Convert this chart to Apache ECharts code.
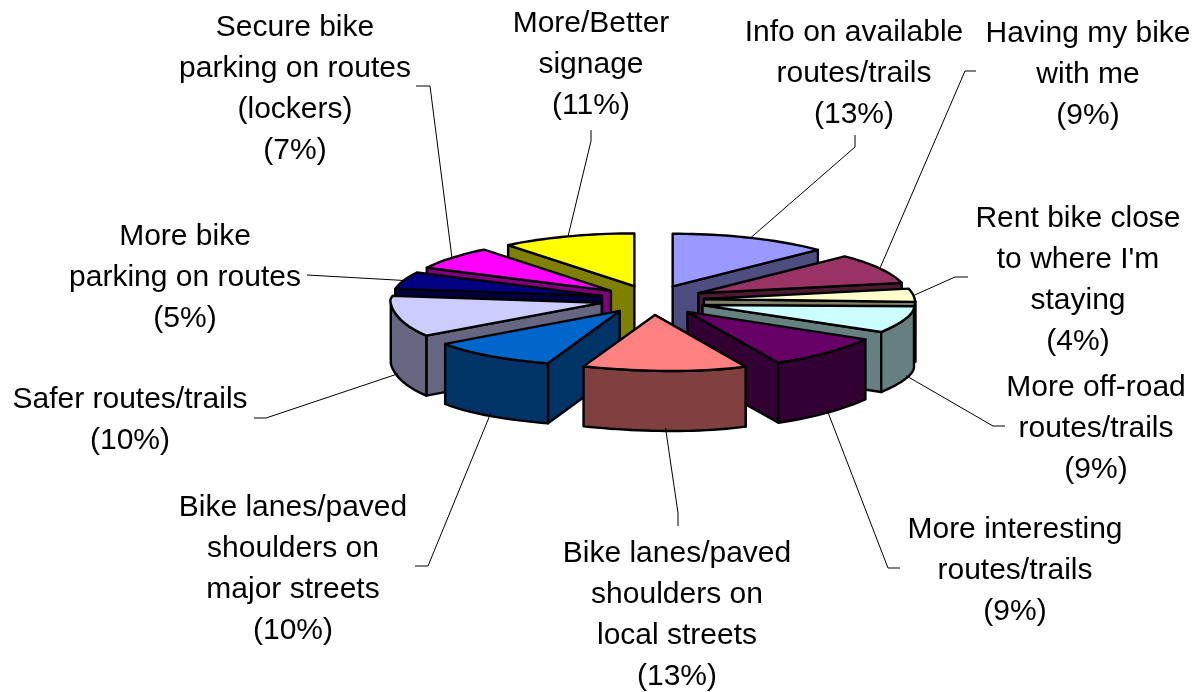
<!DOCTYPE html>
<html><head><meta charset="utf-8">
<style>html,body{margin:0;padding:0;background:#fff}#c{width:1198px;height:692px}</style>
<script src="https://cdn.jsdelivr.net/npm/echarts@6/dist/echarts.min.js"></script>
</head><body><div id="c"></div>
<script>
const categories = [
  "Info on available\nroutes/trails","Having my bike\nwith me","Rent bike close\nto where I'm\nstaying",
  "More off-road\nroutes/trails","More interesting\nroutes/trails","Bike lanes/paved\nshoulders on\nlocal streets",
  "Bike lanes/paved\nshoulders on\nmajor streets","Safer routes/trails","More bike\nparking on routes",
  "Secure bike\nparking on routes\n(lockers)","More/Better\nsignage"];
const percents = [13,9,4,9,9,13,10,10,5,7,11];
const topColors = ["#9999FF","#993366","#FFFFCC","#CCFFFF","#660066","#FF8080","#0066CC","#CCCCFF","#000080","#FF00FF","#FFFF00"];
const wallColors = ["#4D4D80","#4D1A33","#808066","#668080","#330033","#804040","#003366","#666680","#000040","#800080","#808000"];

// layout only: label centre [x, y of first line], leader route from label towards the slice
const labelAt = [[854,33],[1088,34],[1078,219],[1096,388],[1015,530],[677,554],[293,508],[130,400],[185,237],[295,28],[591,24]];
const leaderVia = [
  [[855,135],[855,147]],[[976,71],[965,71]],[[968,277],[955,277]],[[1005,426],[993,426]],[[900,568],[888,568]],
  [[678,526],[678,513]],[[415,566],[428,566]],[[254,418],[266,418]],[[307,275]],[[416,86],[430,86]],[[591,130],[591,141]]];
const view = {cx:652, cy:300, rx:211, ry:56, ex:52, ey:15, h:60, shear:17, skew:8, backX:0.06, backY:0.04, frontX:0.025};

const total = percents.reduce((a,b)=>a+b,0);
const rad = d => d*Math.PI/180;
const starts = []; { let s=0; percents.forEach(v=>{starts.push(s); s+=v/total*360;}); }
function proj(mid,th,r){
  const ox=view.ex*Math.sin(rad(mid));
  let rxPart=r*view.rx*Math.sin(rad(th));
  let wy=view.ey*Math.cos(rad(mid))+r*view.ry*Math.cos(rad(th));
  const n=wy/view.ry, front=Math.max(0,-n);
  if(n>0){ rxPart*=1-view.backX*n; wy*=1-view.backY*n; }
  rxPart*=1-view.frontX*front*front;
  const wx=ox+rxPart, q=wx/view.rx;
  return [view.cx+wx+view.shear*front, view.cy-wy-view.skew*front*q*q*q];
}
function arc(mid,a,b,r){ const n=Math.max(2,Math.ceil(Math.abs(b-a)/2)),p=[];
  for(let i=0;i<=n;i++)p.push(proj(mid,a+(b-a)*i/n,r)); return p; }
const down = p => p.map(q=>[q[0],q[1]+view.h]);
const line = {stroke:"#000",lineWidth:2.4,lineJoin:"round"};
const poly = (points,fill)=>({type:"polygon",shape:{points},style:Object.assign({fill},line),silent:true});

function renderItem(params,api){
  const i=api.value(1), v=api.value(0);
  const a=starts[i], b=a+v/total*360, mid=(a+b)/2;
  const apex=proj(mid,a,0), kids=[];
  // radial wall that faces the viewer
  const edge = Math.sin(rad(mid))>0 ? b : a;
  const corner = proj(mid,edge,1);
  kids.push(poly([apex,corner,[corner[0],corner[1]+view.h],[apex[0],apex[1]+view.h]],wallColors[i]));
  // outer curved wall on the front half
  const fa=Math.max(a,90), fb=Math.min(b,270);
  if(fb>fa){ const t=arc(mid,fa,fb,1); kids.push(poly(t.concat(down(t).reverse()),wallColors[i])); }
  // top face
  kids.push(poly([apex].concat(arc(mid,a,b,1)),topColors[i]));
  // leader and text
  let tip=proj(mid,mid,1);
  if(Math.cos(rad(mid))<0) tip=[tip[0],tip[1]+view.h-3];
  kids.push({type:"polyline",z2:50,silent:true,shape:{points:leaderVia[i].concat([tip])},style:{fill:null,stroke:"#000",lineWidth:1}});
  kids.push({type:"text",z2:60,silent:true,x:labelAt[i][0],y:labelAt[i][1]-20.5,
    style:{text:categories[i]+"\n("+v+"%)",fill:"#000",font:'30px "Liberation Sans", Arial, sans-serif',align:"center",verticalAlign:"top",lineHeight:41}});
  return {type:"group",children:kids};
}
const order = percents.map((v,i)=>i).sort((p,q)=>{
  const m=k=>starts[k]+percents[k]/total*180;
  return Math.cos(rad(m(q)))-Math.cos(rad(m(p)));
});
const chart = echarts.init(document.getElementById("c"),null,{renderer:"canvas"});
chart.setOption({
  animation:false, backgroundColor:"#fff", tooltip:{show:false},
  series:[{type:"custom",coordinateSystem:"none",renderItem,clip:false,
    encode:{value:0},
    data:order.map(i=>({name:categories[i].replace(/\n/g," "),value:[percents[i],i]}))}]
});
</script></body></html>
